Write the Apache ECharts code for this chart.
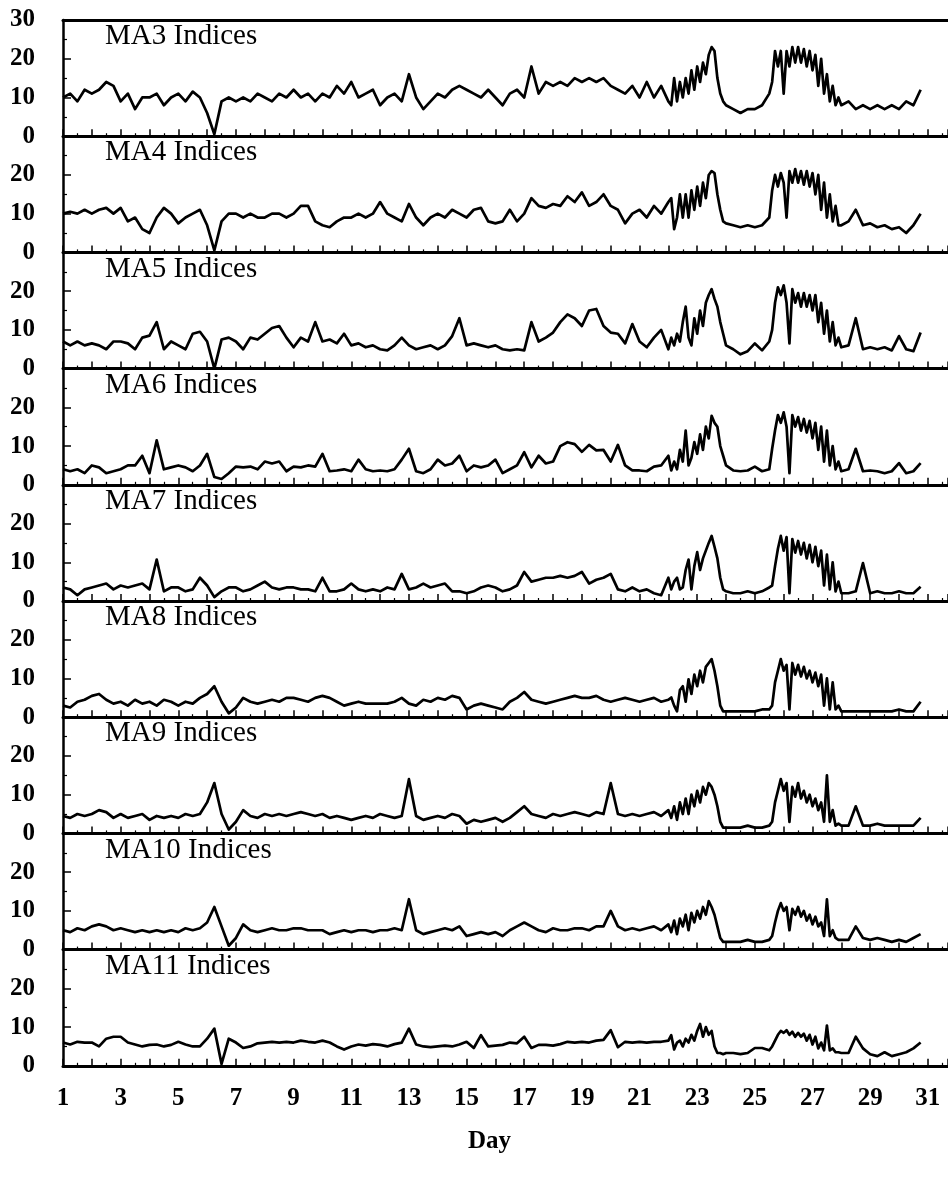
<!DOCTYPE html>
<html>
<head>
<meta charset="utf-8">
<script src="https://cdn.jsdelivr.net/npm/echarts@6/dist/echarts.min.js"></script>
<style>
  html, body { margin: 0; padding: 0; background: #fff; }
  #chart { width: 948px; height: 1184px; }
</style>
</head>
<body>
<div id="chart"></div>
<script>
// sample days: quarter-day steps, finer (0.1 day) through the two disturbed intervals
const days = [
  1,1.25,1.5,1.75, 2,2.25,2.5,2.75, 3,3.25,3.5,3.75, 4,4.25,4.5,4.75, 5,5.25,5.5,5.75,
  6,6.25,6.5,6.75, 7,7.25,7.5,7.75, 8,8.25,8.5,8.75, 9,9.25,9.5,9.75, 10,10.25,10.5,10.75,
  11,11.25,11.5,11.75, 12,12.25,12.5,12.75, 13,13.25,13.5,13.75, 14,14.25,14.5,14.75,
  15,15.25,15.5,15.75, 16,16.25,16.5,16.75, 17,17.25,17.5,17.75, 18,18.25,18.5,18.75,
  19,19.25,19.5,19.75, 20,20.25,20.5,20.75, 21,21.25,21.5,21.75, 22,
  22.1,22.2,22.3,22.4,22.5,22.6,22.7,22.8,22.9,23,23.1,23.2,23.3,23.4,23.5,23.6,23.7,23.8,23.9,24,
  24.25,24.5,24.75,25,25.25,25.5,
  25.6,25.7,25.8,25.9,26,26.1,26.2,26.3,26.4,26.5,26.6,26.7,26.8,26.9,27,27.1,27.2,27.3,27.4,27.5,27.6,27.7,27.8,27.9,28,
  28.25,28.5,28.75,29,29.25,29.5,29.75,30,30.25,30.5,30.75
];

const panelNames = ['MA3 Indices','MA4 Indices','MA5 Indices','MA6 Indices','MA7 Indices',
                    'MA8 Indices','MA9 Indices','MA10 Indices','MA11 Indices'];

const ma3 = [
  10,11,9,12, 11,12,14,13, 9,11,7,10, 10,11,8,10, 11,9,11.5,10, 6,0.5,9,10, 9,10,9,11,
  10,9,11,10, 12,10,11,9, 11,10,13,11, 14,10,11,12, 8,10,11,9, 16,10,7,9, 11,10,12,13,
  12,11,10,12, 10,8,11,12, 10,18,11,14, 13,14,13,15, 14,15,14,15, 13,12,11,13, 10,14,10,13, 9,
  8,15,9,14,10,15,11,17,12,18,14,19,16,21,23,22,15,11,9,8,
  7,6,7,7,8,11,
  14,22,18,22,11,22,18,23,19,23,19,22.5,18,22,17,21,13,20,11,16,9,13,8,10,8,
  9,7,8,7,8,7,8,7,9,8,12
];
const ma4 = [
  10,10.5,10,11, 10,11,11.5,10, 11.5,8,9,6, 5,9,11.5,10, 7.5,9,10,11, 7,0.5,8,10, 10,9,10,9,
  9,10,10,9, 10,12,12,8, 7,6.5,8,9, 9,10,9,10, 13,10,9,8, 12.5,9,7,9, 10,9,11,10,
  9,11,11.5,8, 7.5,8,11,8, 10,14,12,11.5, 12.5,12,14.5,13, 15.5,12,13,15, 12,11,7.5,10, 11,9,12,10, 13,
  14,6,9,15,9,15,9,16,11,17,12,18,14,20,21,20.5,15,11,8,7.5,
  7,6.5,7,6.5,7,9,
  16,20,17,20.5,18,9,21,18,21.5,18,21,17.5,21,17,20.5,15,20,11,18,9,15,8,12,7,7,
  8,11,7,7.5,6.5,7,6,6.5,5,7,10
];
const ma5 = [
  7,6,7,6, 6.5,6,5,7, 7,6.5,5,8, 8.5,12,5,7, 6,5,9,9.5, 7,0,7.5,8, 7,5,8,7.5,
  9,10.5,11,8, 5.5,8,7,12, 7,7.5,6.5,9, 6,6.5,5.5,6, 5,4.7,6,8, 6,5,5.5,6, 5,6,8.4,13,
  6,6.5,6,5.5, 6,5,4.7,5, 4.7,12,7,8, 9.3,12,14,13, 11,15,15.4,11, 9.3,9,6.5,11.5, 7,5.5,8,10, 5,
  8,6,9,7,12,16,8,6,13,9,15,11,17,19,20.5,18,16,12,9,6,
  5,3.7,4.5,6.5,4.7,7,
  10,17,21,19,21.5,17,6.5,20.5,17,19.5,16,19.5,16,19,15,19,12,17,9,15,7,12,6,8,5.5,
  6,13,5,5.5,5,5.5,4.7,8.4,5,4.5,9.3
];
const ma6 = [
  4,3.5,4,3, 5,4.5,3,3.5, 4,5,5,7.5, 3,11.5,4,4.5, 5,4.5,3.5,5, 8,2,1.5,3, 4.7,4.5,4.7,4,
  6,5.5,6,3.5, 4.7,4.5,5,4.7, 8,3.5,3.7,4, 3.5,6.5,4,3.5, 3.7,3.5,4,6.5, 9.3,3.5,3,4, 6.5,5,5.5,7.5,
  3.5,5,4.5,5, 6.5,3,4,5, 8.4,4.5,7.5,5.5, 6,10,11,10.5, 8.5,10.3,8.9,9, 6,10.3,5,3.7, 3.7,3.5,4.7,5, 7.5,
  3.7,6,4,9,6,14,5,7,11,8,13,9,15,12,17.8,16,15,10,7.5,5,
  3.7,3.5,3.7,4.7,3.5,4,
  9.3,14,18,16,18.7,15,3,18,15,17.5,14,17,13.5,16.5,12,16,9,15,6,14,5,10,4,6,3.5,
  4,9.3,3.5,3.7,3.5,3,3.5,5.6,3,3.5,5.6
];
const ma7 = [
  3.5,3,1.5,3, 3.5,4,4.5,3, 4,3.5,4,4.5, 3,10.7,2.5,3.5, 3.5,2.5,3,6, 4,1,2.5,3.5, 3.5,2.5,3,4,
  5,3.5,3,3.5, 3.5,3,3,2.5, 6,2.5,2.5,3, 4.5,3,2.5,3, 2.5,3.5,3,7, 3,3.5,4.5,3.5, 4,4.5,2.5,2.5,
  2,2.5,3.5,4, 3.5,2.5,3,4, 7.5,5,5.5,6, 6,6.5,6,6.5, 7.5,4.5,5.5,6, 7,3,2.5,3.5, 2.5,3,2,1.5, 6,
  3,5,6,3,3.5,8,10.7,3,9,12.6,8,11,13,15,16.8,14,11,6,3,2.5,
  2,2,2.5,2,2.5,3.5,
  4,9,13.5,16.8,13,16.5,2,16,12.5,15.5,12,15,11,14.5,10,14,9,13,4,12,3,10,2.5,5,2,
  2,2.5,9.8,2,2.5,2,2,2.5,2,2,3.7
];
const ma8 = [
  3,2.5,4,4.5, 5.5,6,4.5,3.5, 4,3,4.5,3.5, 4,3,4.5,4, 3,4,3.5,5, 6,8,4,1, 2.5,5,4,3.5,
  4,4.5,4,5, 5,4.5,4,5, 5.5,5,4,3, 3.5,4,3.5,3.5, 3.5,3.5,4,5, 3.5,3,4.5,4, 5,4.5,5.5,5,
  2,3,3.5,3, 2.5,2,4,5, 6.5,4.5,4,3.5, 4,4.5,5,5.5, 5,5,5.5,4.5, 4,4.5,5,4.5, 4,4.5,5,4, 4.5,
  5.1,3,1.5,7,8,4,9.8,6,11,8,12,9,13,14,15,12,8,3,1.5,1.5,
  1.5,1.5,1.5,1.5,2,2,
  3,9,12,15,12,13.5,2,14,11,13.5,10.5,13,10,12,9,11.5,8,11,3,10,2,9,2,3,1.5,
  1.5,1.5,1.5,1.5,1.5,1.5,1.5,2,1.5,1.5,4
];
const ma9 = [
  4.5,4,5,4.5, 5,6,5.5,4, 5,4,4.5,5, 3.5,4.5,4,4.5, 4,5,4.5,5, 8,13,5,1, 3,6,4.5,4,
  5,4.5,5,4.5, 5,5.5,5,4.5, 5,4,4.5,4, 3.5,4,4.5,4, 5,4.5,4,4.5, 14,4.5,3.5,4, 4.5,4,5,4.5,
  2.5,3.5,3,3.5, 4,3,4,5.5, 7,5,4.5,4, 5,4.5,5,5.5, 5,4.5,5.5,5, 13,5,4.5,5, 4.5,5,5.5,4.5, 6,
  4,7,3.5,8,5,9,5,10,7,11,8,12,10,13,12,10,7,3,1.5,1.5,
  1.5,1.5,2,1.5,1.5,2,
  3,8,11,14,11,13,3,12,9.5,13,9,11,8,10,7,9,6,8,3,15,3,6,2,2.5,2,
  2,7,2,2,2.5,2,2,2,2,2,4
];
const ma10 = [
  5,4.5,5.5,5, 6,6.5,6,5, 5.5,5,4.5,5, 4.5,5,4.5,5, 4.5,5.5,5,5.5, 7,11,6,1, 3,6.5,5,4.5,
  5,5.5,5,5, 5.5,5.5,5,5, 5,4,4.5,5, 4.5,5,5,4.5, 5,5,5.5,5, 13,5,4,4.5, 5,5.5,5,6,
  3.5,4,4.5,4, 4.5,3.5,5,6, 7,6,5,4.5, 5.5,5,5,5.5, 5.5,5,6,6, 10,6,5,5.5, 5,5.5,6,5, 6.5,
  4.5,7.5,4,8,6,9,5,9.5,7,10,8,11,9,12.5,11,9,6,3,2,2,
  2,2,2.5,2,2,2.5,
  3.5,7,10,12,10,11,5,10.5,9,11,8.5,10,7.5,9,6.5,8.5,6,7,3.5,13,3.5,5,3,2.5,2.5,
  2.5,6,3,2.5,3,2.5,2,2.5,2,3,4
];
const ma11 = [
  6,5.5,6.2,6, 6,5,7,7.5, 7.5,6,5.5,5, 5.4,5.5,5,5.4, 6.2,5.5,5,5, 7,9.6,0.5,7, 6,4.6,5,5.8,
  6,6.2,6,6.2, 6,6.5,6.2,6, 6.5,6,5,4.2, 5,5.5,5.2,5.6, 5.4,5,5.6,6, 9.6,5.5,5,4.8, 5,5.2,5,5.5,
  6.2,4.6,7.9,5, 5.2,5.4,6,5.8, 7.5,4.6,5.4,5.4, 5.2,5.6,6.2,6, 6.2,6,6.5,6.7, 9.2,4.8,6.2,6, 6.2,6,6.2,6.2, 6.5,
  7.9,4.2,6,6.5,5,7,6,8,6.5,9,10.8,7.5,10,8,9,5,3.3,3.3,3,3.3,
  3.3,3,3.3,4.6,4.6,4,
  5,6.5,8,9,8.5,9.2,8,8.8,7.5,8.5,7.5,8.3,6.5,8,5.5,7.5,4.5,6,4,10.4,4,4.5,3.5,3.5,3.3,
  3.3,7.5,4.5,3,2.5,3.5,2.5,3,3.5,4.5,6
];
const panelValues = [ma3, ma4, ma5, ma6, ma7, ma8, ma9, ma10, ma11];

const yTickStep = 10;
const oddDayLabels = [1,3,5,7,9,11,13,15,17,19,21,23,25,27,29,31];

panelValues.forEach((v, i) => {
  if (v.length !== days.length) console.warn(panelNames[i], v.length, days.length);
});

const chart = echarts.init(document.getElementById('chart'), null, { renderer: 'canvas' });

const FONT = '"Liberation Serif", "DejaVu Serif", serif';
const TOP = 20, PH = 116.2, LEFT = 63;
const X_MIN = 1, X_MAX = 31.7;

const grids = [], xAxes = [], yAxes = [], series = [], titles = [];
panelNames.forEach((name, k) => {
  const last = k === panelNames.length - 1;
  grids.push({ left: LEFT, right: 0, top: TOP + k * PH, height: PH });
  xAxes.push({
    type: 'value', gridIndex: k, min: X_MIN, max: X_MAX, interval: 1,
    axisLine: { show: true, onZero: false, lineStyle: { color: '#000', width: 3 } },
    axisTick: { show: true, inside: true, length: 7, lineStyle: { color: '#000', width: 1.5 } },
    minorTick: { show: true, splitNumber: 2, length: 3, lineStyle: { color: '#000', width: 1.2 } },
    splitLine: { show: false },
    axisLabel: {
      show: last, margin: 20, color: '#000', fontFamily: FONT, fontWeight: 'bold', fontSize: 25,
      showMaxLabel: false,
      formatter: v => oddDayLabels.indexOf(v) >= 0 ? String(v) : ''
    }
  });
  yAxes.push({
    type: 'value', gridIndex: k, min: 0, max: 30, interval: yTickStep,
    axisLine: { show: true, lineStyle: { color: '#000', width: 2.5 } },
    axisTick: { show: true, inside: true, length: 8, lineStyle: { color: '#000', width: 1.5 } },
    minorTick: { show: true, splitNumber: 2, length: 4, lineStyle: { color: '#000', width: 1.2 } },
    splitLine: { show: false },
    axisLabel: {
      margin: 28, color: '#000', fontFamily: FONT, fontWeight: 'bold', fontSize: 25,
      showMaxLabel: k === 0
    }
  });
  series.push({
    type: 'line', xAxisIndex: k, yAxisIndex: k, showSymbol: false, symbol: 'none',
    lineStyle: { color: '#000', width: 2.7, join: 'round' },
    data: days.map((d, i) => [d, panelValues[k][i]])
  });
  titles.push({
    text: name, left: 105, top: TOP + k * PH + 2, padding: 0,
    textStyle: { color: '#000', fontFamily: FONT, fontWeight: 'normal', fontSize: 29 }
  });
});

// top border of the first panel
xAxes.push({
  type: 'value', gridIndex: 0, position: 'top', min: X_MIN, max: X_MAX,
  axisLine: { show: true, onZero: false, lineStyle: { color: '#000', width: 3 } },
  axisTick: { show: false }, axisLabel: { show: false }, splitLine: { show: false }
});

chart.setOption({
  animation: false,
  backgroundColor: '#fff',
  title: titles,
  grid: grids,
  xAxis: xAxes,
  yAxis: yAxes,
  series: series,
  graphic: [{
    type: 'text', left: 468, top: 1129,
    style: { text: 'Day', fill: '#000', font: 'bold 25px ' + FONT }
  }]
});
</script>
</body>
</html>
